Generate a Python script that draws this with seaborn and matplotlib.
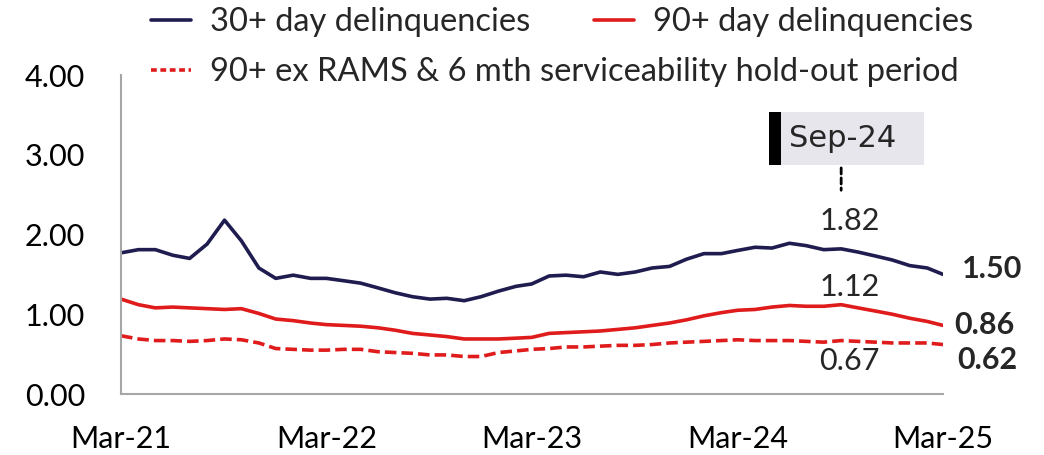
import matplotlib
matplotlib.use("Agg")
import matplotlib.pyplot as plt
import matplotlib.dates as mdates
from matplotlib.lines import Line2D
from matplotlib.patches import Rectangle
import seaborn as sns
import pandas as pd

# monthly series, Mar-21 .. Mar-25 (per cent)
months = pd.date_range("2021-03-01", periods=49, freq="MS")
dq30 = [1.77, 1.81, 1.81, 1.74, 1.70, 1.88, 2.18, 1.92, 1.58, 1.45, 1.49, 1.45, 1.45,
        1.42, 1.39, 1.33, 1.27, 1.22, 1.19, 1.20, 1.17, 1.22, 1.29, 1.35, 1.38,
        1.48, 1.49, 1.47, 1.53, 1.50, 1.53, 1.58, 1.60, 1.69, 1.76, 1.76, 1.80,
        1.84, 1.83, 1.89, 1.86, 1.81, 1.82, 1.78, 1.73, 1.68, 1.61, 1.58, 1.50]
dq90 = [1.19, 1.12, 1.08, 1.09, 1.08, 1.07, 1.06, 1.07, 1.01, 0.94, 0.92, 0.89, 0.87,
        0.86, 0.85, 0.83, 0.80, 0.76, 0.74, 0.72, 0.69, 0.69, 0.69, 0.70, 0.71,
        0.76, 0.77, 0.78, 0.79, 0.81, 0.83, 0.86, 0.89, 0.93, 0.98, 1.02, 1.05,
        1.06, 1.09, 1.11, 1.10, 1.10, 1.12, 1.08, 1.04, 1.00, 0.95, 0.91, 0.86]
dq90_ex = [0.73, 0.69, 0.67, 0.67, 0.66, 0.67, 0.69, 0.68, 0.64, 0.57, 0.56, 0.55, 0.55,
           0.56, 0.56, 0.53, 0.52, 0.51, 0.49, 0.49, 0.47, 0.47, 0.52, 0.54, 0.56,
           0.57, 0.59, 0.59, 0.60, 0.61, 0.61, 0.62, 0.64, 0.65, 0.66, 0.67, 0.68,
           0.67, 0.67, 0.67, 0.66, 0.65, 0.67, 0.66, 0.65, 0.64, 0.64, 0.64, 0.62]
labels = ["30+ day delinquencies", "90+ day delinquencies",
          "90+ ex RAMS & 6 mth serviceability hold-out period"]
y_ticks = [0, 1, 2, 3, 4]
highlight = "Sep-24"

navy = "#1f1c4f"
red = "#e01b1c"
lw = 2.6
dash = (0, (3.2, 1.4))
fs = 22
leg_fs = 23.5

sns.set_style("white")
plt.rcParams["font.family"] = ["Lato", "DejaVu Sans"]

fig = plt.figure(figsize=(10.44, 4.55), dpi=100)
ax = fig.add_axes([121 / 1044, 1 - 394 / 455, (943 - 121) / 1044, (394 - 75) / 455])

df = pd.DataFrame({"month": months, "dq30": dq30, "dq90": dq90, "dq90_ex": dq90_ex})
sns.lineplot(data=df, x="month", y="dq30", ax=ax, color=navy, lw=lw)
sns.lineplot(data=df, x="month", y="dq90", ax=ax, color=red, lw=lw)
sns.lineplot(data=df, x="month", y="dq90_ex", ax=ax, color=red, lw=lw, linestyle=dash)

ax.set_xlim(months[0], months[-1])
ax.set_ylim(0, 4)
ax.set_yticks(y_ticks)
ax.set_yticklabels([f"{v:.2f}" for v in y_ticks])
ax.xaxis.set_major_locator(mdates.MonthLocator(bymonth=3))
ax.xaxis.set_major_formatter(mdates.DateFormatter("%b-%y"))
ax.set_xlabel("")
ax.set_ylabel("")
ax.tick_params(axis="both", length=0, labelsize=fs, colors="black")
ax.tick_params(axis="y", pad=26)
ax.tick_params(axis="x", pad=22)
for s in ["top", "right"]:
    ax.spines[s].set_visible(False)
for s in ["left", "bottom"]:
    ax.spines[s].set_color("#a6a6a6")
    ax.spines[s].set_linewidth(1.5)

# Sep-24 marker and values
i = 42
xd = months[i]
for v, dy in [(dq30[i], 20), (dq90[i], 13), (dq90_ex[i], -15)]:
    ax.annotate(f"{v:.2f}", (xd, v), xytext=(6, dy), textcoords="offset points",
                ha="center", va="center", fontsize=fs)
ax.annotate("", xy=(xd, 2.52), xytext=(xd, 2.87),
            arrowprops=dict(arrowstyle="-", ls=(0, (2.2, 1.4)), lw=2, color="black"))
xn = mdates.date2num(xd)
# label box: grey fill with a black bar on the left
ax.add_patch(Rectangle((xn - 128, 2.87), 275, 0.66, fc="#e6e6ec", ec="none",
                       clip_on=False, zorder=3))
ax.add_patch(Rectangle((xn - 128, 2.87), 21, 0.66, fc="black", ec="none",
                       clip_on=False, zorder=3))
ax.text(xn - 92, 3.2, highlight, fontsize=22, family="DejaVu Sans",
        va="center", ha="left", zorder=4)

# last values
for v, dx, dy in [(dq30[-1], 14, 4), (dq90[-1], 8, 0), (dq90_ex[-1], 10, -11)]:
    ax.annotate(f"{v:.2f}", (months[-1], v), xytext=(dx, dy), textcoords="offset points",
                ha="left", va="center", fontsize=fs, fontweight="bold")

h1 = Line2D([], [], color=navy, lw=lw)
h2 = Line2D([], [], color=red, lw=lw)
h3 = Line2D([], [], color=red, lw=lw, linestyle=(0, (1.6, 1.0)))
fig.legend([h1, h2], labels[:2], ncol=2, loc="center left",
           bbox_to_anchor=(151 / 1044, 1 - 22 / 455), frameon=False, fontsize=leg_fs,
           borderpad=0, borderaxespad=0, handlelength=1.23, handletextpad=0.58,
           columnspacing=1.95)
fig.legend([h3], labels[2:], loc="center left",
           bbox_to_anchor=(151 / 1044, 1 - 72 / 455), frameon=False, fontsize=leg_fs,
           borderpad=0, borderaxespad=0, handlelength=1.23, handletextpad=0.58)

fig.savefig("out.png", dpi=100)
